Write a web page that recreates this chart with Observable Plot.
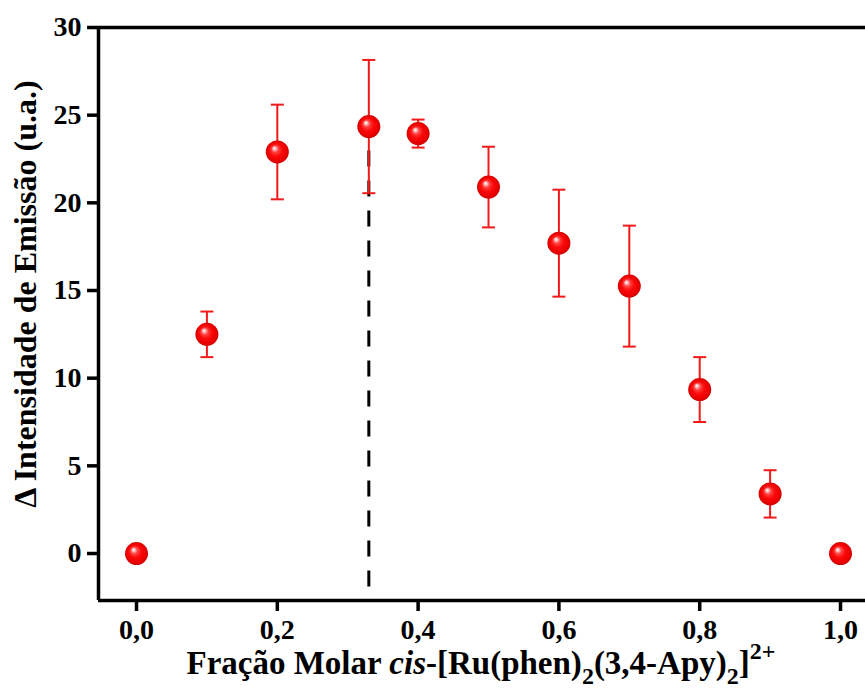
<!DOCTYPE html>
<html><head><meta charset="utf-8">
<script src="https://cdn.jsdelivr.net/npm/d3@7"></script>
<script src="https://cdn.jsdelivr.net/npm/@observablehq/plot@0.6"></script>
<style>
body{margin:0;background:#fff;overflow:hidden}
#chart svg{display:block}
</style>
</head><body><div id="chart"></div>
<script>
// Job plot data (molar fraction vs. emission intensity change)
const fractions   = [0, 0.1, 0.2, 0.33, 0.4, 0.5, 0.6, 0.7, 0.8, 0.9, 1.0];
const intensities = [0, 12.5, 22.9, 24.35, 23.95, 20.9, 17.7, 15.25, 9.35, 3.4, 0];
const errors      = [0, 1.3, 2.7, 3.8, 0.8, 2.3, 3.05, 3.45, 1.85, 1.35, 0];
const xTicks = [0, 0.2, 0.4, 0.6, 0.8, 1.0];
const yTicks = [0, 5, 10, 15, 20, 25, 30];
const jobFraction = 0.33;
const jobLineTop = 22.95;
const xDomain = [-0.054, 1.0355];
const yDomain = [-2.68, 30];

const data = fractions.map((x, i) => ({x, y: intensities[i], err: errors[i]}));
const withErr = data.filter(d => d.err > 0);

const capSymbol = {
  draw(ctx, size) {
    const r = Math.sqrt(size / Math.PI);
    ctx.moveTo(-r, 0); ctx.lineTo(r, 0);
  }
};
const fmt = d => d.toFixed(1).replace(".", ",");
const red = "#f01a1a";
const serif = "'Liberation Serif', 'Times New Roman', serif";

const plot = Plot.plot({
  width: 865, height: 692,
  marginLeft: 98, marginRight: 0, marginTop: 27, marginBottom: 92,
  style: {fontFamily: serif, fontSize: "28px", fontWeight: "bold", color: "#000", background: "#fff", overflow: "visible"},
  x: {domain: xDomain},
  y: {domain: yDomain},
  marks: [
    Plot.axisX({ticks: xTicks, tickFormat: fmt, tickSize: 11, tickPadding: 8, strokeWidth: 3.5, label: null, fontWeight: "bold", fontSize: 28, fontFamily: serif}),
    Plot.axisY({ticks: yTicks, tickSize: 11, tickPadding: 6, strokeWidth: 3.5, label: null, fontWeight: "bold", fontSize: 28, fontFamily: serif}),
    Plot.ruleY([yDomain[0]], {stroke: "#000", strokeWidth: 3.5}),
    Plot.ruleY([yDomain[1]], {stroke: "#000", strokeWidth: 3.5}),
    Plot.ruleX([xDomain[0]], {stroke: "#000", strokeWidth: 3.5}),
    Plot.ruleX([jobFraction], {y1: jobLineTop, y2: yDomain[0], stroke: "#000", strokeWidth: 3, strokeDasharray: "16,14"}),
    Plot.ruleX(withErr, {x: "x", y1: d => d.y - d.err, y2: d => d.y + d.err, stroke: red, strokeWidth: 2}),
    Plot.dot(withErr, {x: "x", y: d => d.y + d.err, symbol: capSymbol, r: 6.5, stroke: red, strokeWidth: 2, fill: "none"}),
    Plot.dot(withErr, {x: "x", y: d => d.y - d.err, symbol: capSymbol, r: 6.5, stroke: red, strokeWidth: 2, fill: "none"}),
    Plot.dot(data, {x: "x", y: "y", r: 11.5, fill: "url(#sphere)", stroke: "none"})
  ]
});

const svg = d3.select(plot);
const defs = svg.insert("defs", ":first-child");
const g = defs.append("radialGradient").attr("id", "sphere")
  .attr("cx", "0.5").attr("cy", "0.5").attr("r", "0.5").attr("fx", "0.36").attr("fy", "0.32");
[[0, "#ffffff"], [0.12, "#ffc4c4"], [0.3, "#ff4040"], [0.55, "#fa0a0a"], [0.85, "#ea0000"], [1, "#cc0000"]]
  .forEach(([o, c]) => g.append("stop").attr("offset", o).attr("stop-color", c));

// Y axis title
svg.append("text")
  .attr("transform", "translate(36,294) rotate(-90)")
  .attr("text-anchor", "middle")
  .style("font", "bold 32px " + serif)
  .text("Δ Intensidade de Emissão (u.a.)");

// X axis title with italic, subscripts and superscript
const xt = svg.append("text")
  .attr("x", 481).attr("y", 674)
  .attr("text-anchor", "middle")
  .style("font", "bold 33px " + serif);
xt.append("tspan").text("Fração Molar ");
xt.append("tspan").style("font-style", "italic").text("cis");
xt.append("tspan").text("-[Ru(phen)");
xt.append("tspan").attr("dy", 10).style("font-size", "24px").text("2");
xt.append("tspan").attr("dy", -10).text("(3,4-Apy)");
xt.append("tspan").attr("dy", 10).style("font-size", "24px").text("2");
xt.append("tspan").attr("dy", -10).text("]");
xt.append("tspan").attr("dy", -15).style("font-size", "24px").text("2+");

document.getElementById("chart").appendChild(plot);
</script>
</body></html>
